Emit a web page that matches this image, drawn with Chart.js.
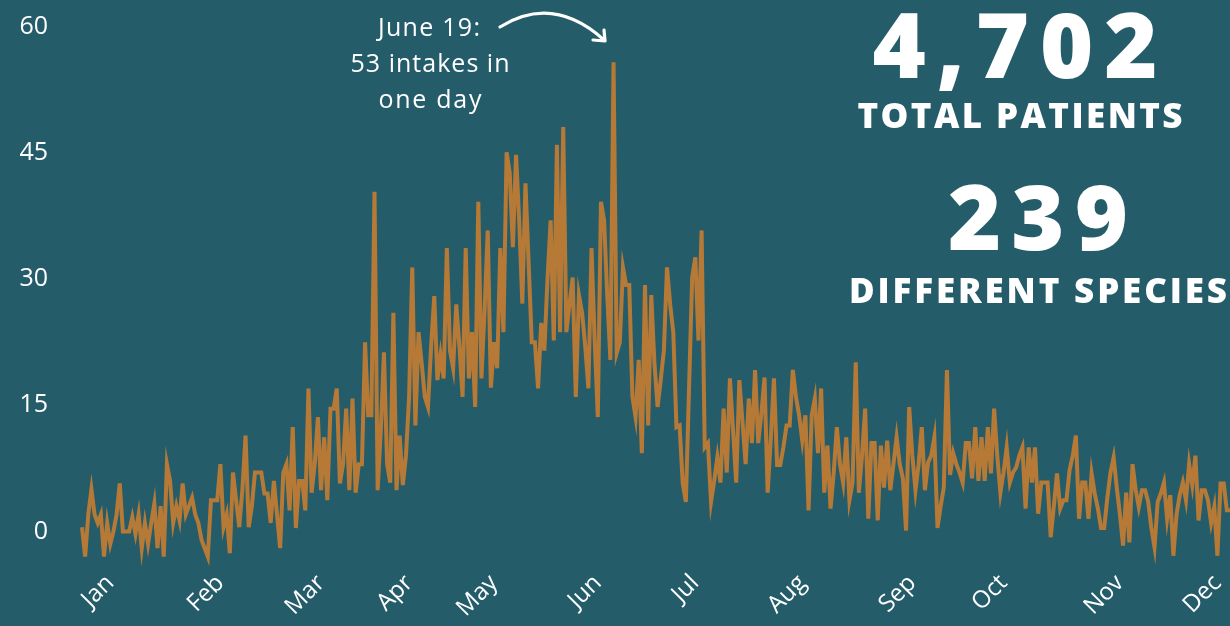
<!DOCTYPE html>
<html><head><meta charset="utf-8">
<script src="https://cdn.jsdelivr.net/npm/chart.js@4.4.1/dist/chart.umd.min.js"></script>
<style>html,body{margin:0;padding:0;background:#245c6a;overflow:hidden}canvas{display:block}</style>
</head><body>
<canvas id="c" width="1230" height="626"></canvas>
<script>
// Daily intakes, one value per day of the year
const dayValues = [
  0.5, -3, 2, 5, 2, 1, 2, -3, 1, -1.5,
  0, 2, 5.7, 0, 0, 0, 1.7, -0.3, 2, -2,
  1, -1.5, 1, 3.3, -2, 3, -3, 8, 6, 1,
  3, 1.3, 5.7, 2, 3, 4, 2, 1, -1, -2,
  -3, 3.7, 3.7, 3.7, 8, 0.5, 2, -2.6, 7, 3.7,
  0.5, 5, 11.4, 0.5, 3, 7, 7, 7, 4.5, 4.5,
  1, 6, 2, -2, 7, 8, 2.5, 12.4, 0.4, 6,
  6, 2.5, 17, 4.6, 8, 13.6, 4.9, 11.2, 3.7, 14.6,
  14.6, 17, 5.7, 8, 14.6, 4.9, 15.8, 4.6, 8, 8,
  22.5, 13.8, 13.8, 40.4, 4.9, 12, 21.3, 8, 5.8, 26,
  4.9, 11.4, 5.5, 9, 16, 31.4, 12.6, 23.7, 20, 16,
  14.8, 22, 28, 18, 21, 18.2, 33.7, 21.5, 19.4, 27,
  22, 16, 33.7, 18.2, 23.7, 14.8, 39.2, 18.2, 26.3, 35.8,
  17.1, 22.5, 19.4, 33.7, 23.7, 45.1, 42.6, 33.8, 44.8, 37,
  27.1, 41.4, 32, 22.5, 22.5, 17, 24.8, 21.5, 30, 37,
  22.7, 46, 23.7, 48.1, 23.7, 27, 30.2, 16, 28.1, 26,
  22, 17, 33.7, 22.7, 13.6, 39.2, 37, 28, 20.4, 55.8,
  21.2, 22.5, 31.4, 29.3, 29.3, 16, 13.6, 20.4, 9.3, 29.3,
  12.6, 28.1, 20, 14.8, 18, 21.5, 31.4, 27, 23.7, 12.4,
  12.6, 5.7, 3.5, 17, 30.2, 32.6, 22.7, 35.8, 10, 10.5,
  3.5, 6, 8.8, 5.8, 14.6, 7, 18.2, 12, 5.8, 18,
  13, 8, 15.8, 10.5, 19.2, 10.5, 14, 18.3, 4.6, 11,
  18.2, 7.9, 7.9, 10, 12.6, 12.6, 19.2, 16, 13.8, 10.8,
  13.8, 2.5, 13.8, 15.8, 9.3, 17, 4.6, 10.2, 2.7, 7,
  12.4, 8, 5.8, 11.2, 3.7, 5.8, 20.1, 4.6, 9, 14.6,
  1.5, 10.5, 10.5, 1.3, 10.2, 5.2, 10.8, 4.9, 8, 11.2,
  8, 6.3, 0.1, 14.8, 9, 4.9, 8, 12.4, 4.9, 8.2,
  9, 11.2, 0.4, 3, 5.2, 19.2, 6.7, 9.3, 8, 7,
  5.8, 10.5, 10.5, 6.3, 12.4, 6, 11.2, 6, 12.4, 6.9,
  14.6, 9, 4.6, 7, 10, 5.8, 7, 7.6, 9, 10,
  2.7, 10, 5.8, 10, 2.1, 5.8, 5.8, 5.8, -0.7, 3,
  6.9, 2.7, 3.7, 3.7, 7.3, 9, 11.4, 1.5, 5.8, 5.8,
  1.5, 6.9, 4.5, 2.7, 0.4, 0.4, 4, 7, 8.8, 5.2,
  2, -1.7, 4.6, -1.3, 8, 5, 2.9, 4.9, 4.9, 3.5,
  0.4, -1.9, 3.5, 4.5, 5.8, 1.5, 4.3, -2.9, 2, 4.3,
  5.8, 3.7, 8, 5.5, 9, 1.3, 4.9, 4.9, 3.7, 1,
  2.9, -2.9, 5.7, 5.7, 2.5, 2.5
];
const dayCategories = dayValues.map((_, i) => String(i));
const monthLabels = ['Jan','Feb','Mar','Apr','May','Jun','Jul','Aug','Sep','Oct','Nov','Dec'];
const monthTickDays = [9, 44, 76, 104, 131, 164, 195, 229, 264, 293, 330, 361];
const yTickValues = [0, 15, 30, 45, 60];
const annotationLines = ['June 19:', '53 intakes in', 'one day'];
const statNumbers = ['4,702', '239'];
const statCaptions = ['TOTAL PATIENTS', 'DIFFERENT SPECIES'];

const FONT = '"Open Sans", "Noto Sans", sans-serif';
const WHITE = '#ffffff';

function drawFitted(ctx, text, cx, baseline, size, weight, targetW) {
  ctx.font = `${weight} ${size}px ${FONT}`;
  ctx.letterSpacing = '0px';
  const w = ctx.measureText(text).width;
  const n = text.length;
  const ls = n > 1 ? (targetW - w) / (n - 1) : 0;
  ctx.letterSpacing = ls + 'px';
  ctx.textAlign = 'left';
  ctx.textBaseline = 'alphabetic';
  ctx.fillText(text, cx - targetW / 2, baseline);
  ctx.letterSpacing = '0px';
}

const decor = {
  id: 'decor',
  afterDraw(chart) {
    const ctx = chart.ctx;
    ctx.save();
    ctx.fillStyle = WHITE;
    // annotation
    drawFitted(ctx, annotationLines[0], 429, 36, 25, 400, 102);
    drawFitted(ctx, annotationLines[1], 430, 72, 25, 400, 159);
    drawFitted(ctx, annotationLines[2], 430, 108, 25, 400, 103);
    // arrow
    ctx.strokeStyle = WHITE;
    ctx.lineWidth = 3.2;
    ctx.lineCap = 'round';
    ctx.lineJoin = 'round';
    ctx.beginPath();
    ctx.moveTo(500, 27);
    ctx.quadraticCurveTo(553, -6, 604, 40);
    ctx.stroke();
    ctx.beginPath();
    ctx.moveTo(593, 40);
    ctx.lineTo(605, 41);
    ctx.lineTo(604, 30);
    ctx.stroke();
    // stats
    drawFitted(ctx, statNumbers[0], 1015, 78, 91, 800, 285);
    drawFitted(ctx, statCaptions[0], 1020, 128, 35, 800, 325);
    drawFitted(ctx, statNumbers[1], 1038, 250, 91, 800, 180);
    drawFitted(ctx, statCaptions[1], 1038, 303, 35, 800, 378);
    ctx.restore();
  }
};

new Chart(document.getElementById('c'), {
  type: 'line',
  data: {
    labels: dayCategories,
    datasets: [{
      data: dayValues,
      borderColor: '#b67a36',
      borderWidth: 4,
      pointRadius: 0,
      tension: 0,
      fill: false,
      clip: false
    }]
  },
  options: {
    responsive: false,
    devicePixelRatio: 1,
    animation: false,
    layout: { padding: { top: 27, left: 0, right: 0, bottom: 0 } },
    plugins: { legend: { display: false }, tooltip: { enabled: false } },
    scales: {
      x: {
        type: 'category',
        offset: false,
        grid: { display: false, drawTicks: false },
        border: { display: false },
        afterBuildTicks: s => { s.ticks = monthTickDays.map(v => ({ value: v })); },
        afterFit: s => { s.height = 61; s.paddingLeft = 0; s.paddingRight = 0; },
        ticks: {
          autoSkip: false, maxRotation: 45, minRotation: 45,
          color: WHITE, padding: 4,
          font: { family: FONT, size: 24 },
          callback: (v, i) => monthLabels[i]
        }
      },
      y: {
        min: -4, max: 60,
        grid: { display: false, drawTicks: false },
        border: { display: false },
        afterBuildTicks: s => { s.ticks = yTickValues.map(v => ({ value: v })); },
        afterFit: s => { s.width = 82; s.paddingTop = 0; s.paddingBottom = 0; },
        ticks: { color: WHITE, padding: 34, font: { family: FONT, size: 25 } }
      }
    }
  },
  plugins: [decor]
});
</script>
</body></html>
